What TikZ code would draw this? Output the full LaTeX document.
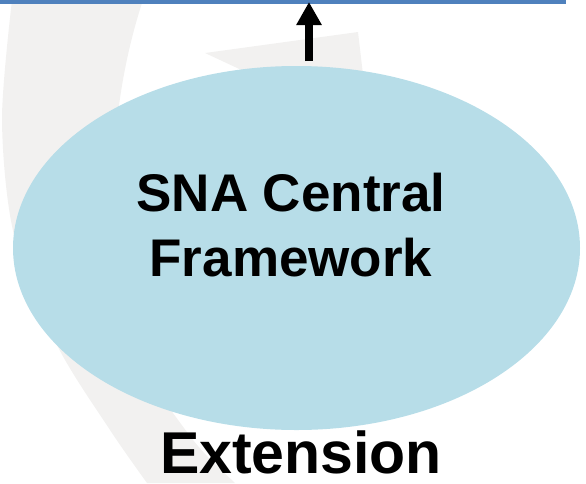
\documentclass[tikz,border=0pt]{standalone}
\usepackage{fontspec}
\setmainfont{Liberation Sans}
\usetikzlibrary{shapes.geometric,arrows.meta}

\definecolor{barblue}{RGB}{79,129,189}
\definecolor{blobblue}{RGB}{183,221,232}
\definecolor{wmgray}{RGB}{242,241,240}

\tikzset{
  wmark/.style={fill=wmgray, draw=none},
  blob/.style={ellipse, fill=blobblue, draw=none, minimum width=567pt, minimum height=364pt, inner sep=0pt},
  bigtext/.style={font=\bfseries\fontsize{53}{65}\selectfont, align=center, inner sep=0pt},
  flow/.style={line width=8pt, -{Triangle[width=24pt,length=23pt]}}
}

\begin{document}
\begin{tikzpicture}[x=1pt,y=-1pt]
\useasboundingbox (0,0) rectangle (586,483);

% faint logo in the background
\fill[wmark] plot[smooth] coordinates {(12,0) (2,120) (14,235) (57,345) (110,430) (147,483)}
  -- (235,483) .. controls (200,450) .. (173,413)
  .. controls (100,300) and (100,130) .. (143,0) -- cycle;
\fill[wmark] (205,53) -- (358,32) -- (366,100) -- (250,100) -- (250,74) -- cycle;

% top bar
\draw[barblue, line width=4pt] (0,2) coordinate (barL) -- (566,2) coordinate (barR);

\node[blob] (core) at (296.5,248) {};
\node[bigtext] (name) at (291,225) {SNA Central\\Framework};
\node[bigtext, font=\bfseries\fontsize{59}{70}\selectfont, anchor=base] (ext) at (301,473) {Extension};

\coordinate (foot) at (309,61);
\draw[flow] (foot) -- (foot |- barL);
\end{tikzpicture}
\end{document}
